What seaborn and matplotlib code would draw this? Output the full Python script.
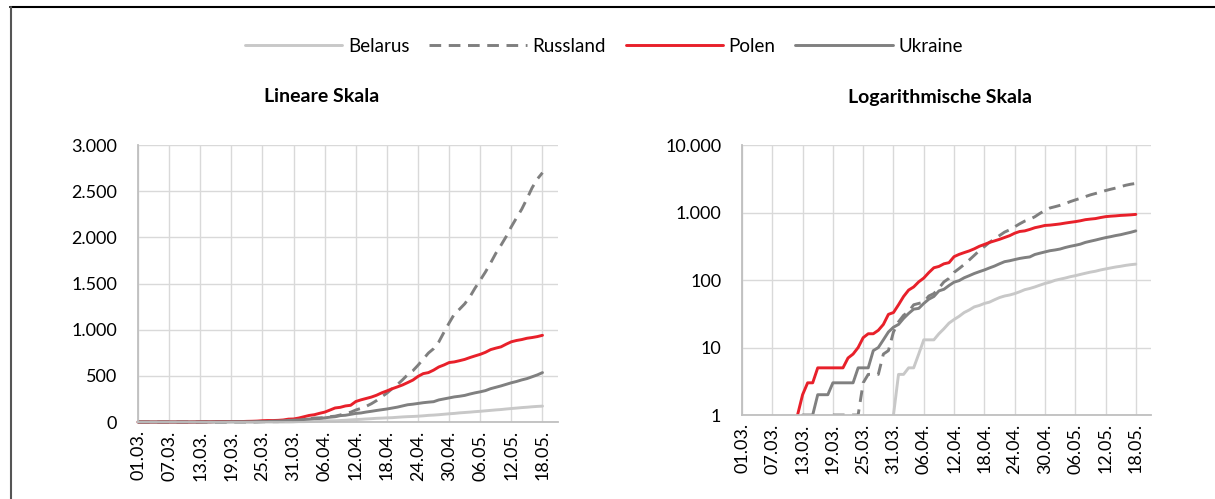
import numpy as np
import pandas as pd
import matplotlib.pyplot as plt
from matplotlib.lines import Line2D
from matplotlib.ticker import FixedLocator, FuncFormatter
import matplotlib.dates as mdates
import seaborn as sns

# ================= Daten (kumulierte Todesfälle, 01.03.–18.05.) =================
dates = pd.date_range("2020-03-01", "2020-05-18", freq="D")

belarus = [0] * 30 + [
    1, 4, 4, 5, 5, 8, 13, 13, 13, 16,
    19, 23, 26, 29, 33, 36, 40, 42, 45, 47,
    51, 55, 58, 60, 63, 67, 72, 75, 79, 84,
    89, 93, 99, 103, 107, 112, 116, 121, 126, 131,
    135, 141, 146, 151, 156, 160, 165, 169, 172,
]

russland = [0] * 18 + [
    1, 1, 1, 1, 1, 1, 3, 4, 4, 4,
    8, 9, 17, 24, 30, 34, 43, 45, 47, 58,
    63, 76, 94, 106, 130, 148, 170, 198, 232, 273,
    313, 361, 405, 456, 513, 555, 615, 681, 747, 794,
    867, 972, 1073, 1169, 1222, 1280, 1356, 1451, 1537, 1625,
    1723, 1827, 1915, 2009, 2116, 2212, 2305, 2418, 2537, 2631,
    2700,
]

polen = [0] * 11 + [
    1, 2, 3, 3, 5, 5, 5, 5, 5, 5,
    7, 8, 10, 14, 16, 16, 18, 22, 31, 33,
    43, 57, 71, 79, 94, 107, 129, 152, 159, 174,
    181, 222, 240, 255, 270, 290, 316, 337, 360, 380,
    401, 427, 454, 494, 524, 535, 562, 596, 618, 644,
    651, 664, 678, 698, 716, 733, 755, 784, 800, 814,
    843, 869, 883, 893, 907, 915, 925, 939,
]

ukraine = [0] * 12 + [
    1, 1, 1, 2, 2, 2, 3, 3, 3, 3,
    3, 5, 5, 5, 9, 10, 13, 17, 20, 22,
    27, 32, 37, 38, 45, 52, 57, 69, 73, 83,
    93, 98, 108, 116, 125, 133, 141, 151, 161, 174,
    187, 193, 201, 209, 215, 220, 239, 250, 261, 272,
    279, 288, 303, 316, 327, 340, 361, 376, 391, 408,
    425, 439, 456, 470, 490, 510, 535,
]

laender = ["Belarus", "Russland", "Polen", "Ukraine"]
farben = {"Belarus": "#c8c8c8", "Russland": "#7f7f7f", "Polen": "#e8202a", "Ukraine": "#808080"}
striche = {"Belarus": "", "Russland": (4, 2.6), "Polen": "", "Ukraine": ""}

df = pd.DataFrame({"Datum": dates, "Belarus": belarus, "Russland": russland,
                   "Polen": polen, "Ukraine": ukraine})
long = df.melt(id_vars="Datum", var_name="Land", value_name="Tote")
long_log = long.copy()
long_log.loc[long_log["Tote"] <= 0, "Tote"] = np.nan

# ================= Layout =================
sns.set_style("white")
plt.rcParams["font.family"] = ["Lato", "DejaVu Sans"]
plt.rcParams["text.color"] = "black"

fig = plt.figure(figsize=(12.15, 4.99), dpi=100)
ax1 = fig.add_axes([0.1136, 0.1543, 0.3457, 0.5551])
ax2 = fig.add_axes([0.6107, 0.1683, 0.3366, 0.5410])

sns.lineplot(data=long, x="Datum", y="Tote", hue="Land", style="Land",
             hue_order=laender, style_order=laender, palette=farben,
             dashes=striche, linewidth=2.1, ax=ax1)
sns.lineplot(data=long_log, x="Datum", y="Tote", hue="Land", style="Land",
             hue_order=laender, style_order=laender, palette=farben,
             dashes=striche, linewidth=2.1, ax=ax2, legend=False)

handles, labels = ax1.get_legend_handles_labels()
ax1.get_legend().remove()
for ln in ax1.get_lines():
    ln.set_clip_on(False)

tick_dates = dates[::6]
grid_c = "#d9d9d9"
for ax in (ax1, ax2):
    ax.set_xlim(dates[0], dates[0] + pd.Timedelta(days=81))
    ax.xaxis.set_major_locator(FixedLocator([mdates.date2num(d) for d in tick_dates]))
    ax.set_xticklabels([d.strftime("%d.%m.") for d in tick_dates], rotation=90)
    ax.set_xlabel("")
    ax.set_ylabel("")
    ax.grid(True, color=grid_c, linewidth=1)
    ax.set_axisbelow(True)
    ax.tick_params(length=0, labelsize=13, labelcolor="black")
    ax.tick_params(axis="y", pad=15)
    ax.tick_params(axis="x", pad=6)
    for s in ("top", "right"):
        ax.spines[s].set_visible(False)
    for s in ("left", "bottom"):
        ax.spines[s].set_color("#bfbfbf")
        ax.spines[s].set_linewidth(1.3)

tausend = FuncFormatter(lambda v, p: f"{int(round(v)):,}".replace(",", "."))

ax1.set_ylim(0, 3000)
ax1.set_yticks(range(0, 3001, 500))
ax1.yaxis.set_major_formatter(tausend)

ax2.set_yscale("log")
ax2.set_ylim(1, 10000)
ax2.yaxis.set_major_locator(FixedLocator([1, 10, 100, 1000, 10000]))
ax2.yaxis.set_minor_locator(FixedLocator([]))
ax2.yaxis.set_major_formatter(tausend)

fig.text(322 / 1215, 1 - 97 / 499, "Lineare Skala", ha="center", va="center",
         fontsize=14, fontweight="bold")
fig.text(940 / 1215, 1 - 97 / 499, "Logarithmische Skala", ha="center", va="center",
         fontsize=14, fontweight="bold")

fig.legend(handles, labels, loc="center", bbox_to_anchor=(604 / 1215, 1 - 46 / 499),
           ncol=4, frameon=False, handlelength=5.2, handletextpad=0.3,
           columnspacing=1.05, fontsize=13.5)

# Rahmen oben und links
fig.add_artist(Line2D([10 / 1215, 1], [1 - 7 / 499, 1 - 7 / 499],
                      transform=fig.transFigure, color="black", linewidth=1.5))
fig.add_artist(Line2D([11 / 1215, 11 / 1215], [0, 1 - 7 / 499],
                      transform=fig.transFigure, color="#555555", linewidth=1.5))

fig.savefig("out.png", dpi=100)
